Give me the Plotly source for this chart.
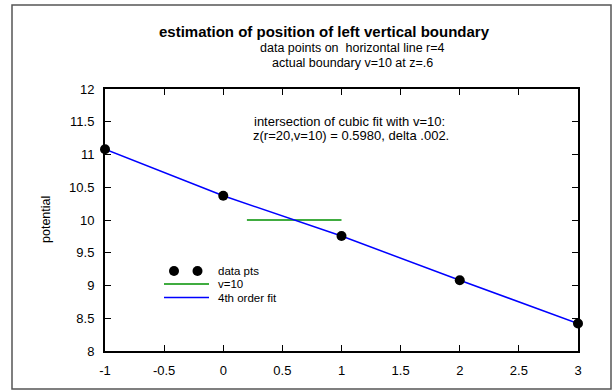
import plotly.graph_objects as go

# data
x_pts = [-1, 0, 1, 2, 3]
y_pts = [11.08, 10.37, 9.755, 9.08, 8.42]
v10_x = [0.2, 1.0]
v10_y = [10, 10]
x_ticks = [-1, -0.5, 0, 0.5, 1, 1.5, 2, 2.5, 3]
y_ticks = [8, 8.5, 9, 9.5, 10, 10.5, 11, 11.5, 12]

W, H = 612, 391
L, R, T, B = 105, 34, 89, 40
PW, PH = W - L - R, H - T - B

def px(x):
    return (x - L) / PW

def py(y):
    return (H - B - y) / PH

FONT = "Liberation Sans, Arial, sans-serif"

fig = go.Figure()
fig.add_trace(go.Scatter(x=v10_x, y=v10_y, mode="lines",
                         line=dict(color="#009000", width=1.5), showlegend=False))
fig.add_trace(go.Scatter(x=x_pts, y=y_pts, mode="lines",
                         line=dict(color="#0000ff", width=1.5), showlegend=False))
fig.add_trace(go.Scatter(x=x_pts, y=y_pts, mode="markers",
                         marker=dict(color="black", size=10), cliponaxis=False,
                         showlegend=False))

shapes = []
# outer frame
shapes.append(dict(type="rect", xref="paper", yref="paper",
                   x0=px(12), x1=px(611), y0=py(389), y1=py(5),
                   line=dict(color="#555555", width=1.5)))
# manual legend
for cx in [174, 197.5]:
    shapes.append(dict(type="circle", xref="paper", yref="paper",
                       x0=px(cx - 5), x1=px(cx + 5), y0=py(276), y1=py(266),
                       fillcolor="black", line=dict(color="black", width=0)))
shapes.append(dict(type="line", xref="paper", yref="paper",
                   x0=px(164), x1=px(209), y0=py(284), y1=py(284),
                   line=dict(color="#009000", width=1.5)))
shapes.append(dict(type="line", xref="paper", yref="paper",
                   x0=px(164), x1=px(209), y0=py(297.5), y1=py(297.5),
                   line=dict(color="#0000ff", width=1.5)))

annotations = []
def txt(text, x, y, size=11, bold=False, xanchor="left"):
    annotations.append(dict(text=("<b>%s</b>" % text) if bold else text,
                            x=px(x), y=py(y), xref="paper", yref="paper",
                            xanchor=xanchor, yanchor="middle", showarrow=False,
                            font=dict(family=FONT, size=size, color="black")))

txt("data pts", 216, 270.5, 11.5)
txt("v=10", 216, 284, 11.5)
txt("4th order fit", 216, 297.5, 11.5)
txt("estimation of position of left vertical boundary", 324, 31.5, 15, True, "center")
txt("data points on &nbsp;horizontal line r=4", 352, 48, 12.5, False, "center")
txt("actual boundary v=10 at z=.6", 352, 63, 12.5, False, "center")
txt("intersection of cubic fit with v=10:", 252, 121.5, 13)
txt("z(r=20,v=10) = 0.5980, delta .002.", 251, 135, 13)
txt("potential", 46, 220, 12.5)
annotations[-1].update(textangle=-90, xanchor="center")

fig.update_layout(
    width=W, height=H,
    margin=dict(l=L, r=R, t=T, b=B),
    paper_bgcolor="white", plot_bgcolor="white",
    shapes=shapes, annotations=annotations,
    font=dict(family=FONT, size=13, color="black"),
    xaxis=dict(range=[-1, 3], tickvals=x_ticks, ticktext=[f"{v:g}" for v in x_ticks],
               ticks="inside", ticklen=6, tickwidth=1, tickcolor="black",
               showline=True, linecolor="black", linewidth=2, mirror="ticks",
               showgrid=False, zeroline=False, tickfont=dict(size=13),
               ticklabelstandoff=6),
    yaxis=dict(range=[8, 12], tickvals=y_ticks, ticktext=[f"{v:g}" for v in y_ticks],
               ticks="inside", ticklen=6, tickwidth=1, tickcolor="black",
               showline=True, linecolor="black", linewidth=2, mirror="ticks",
               showgrid=False, zeroline=False, tickfont=dict(size=13),
               ticklabelstandoff=6),
)

fig.write_html("out.html")
